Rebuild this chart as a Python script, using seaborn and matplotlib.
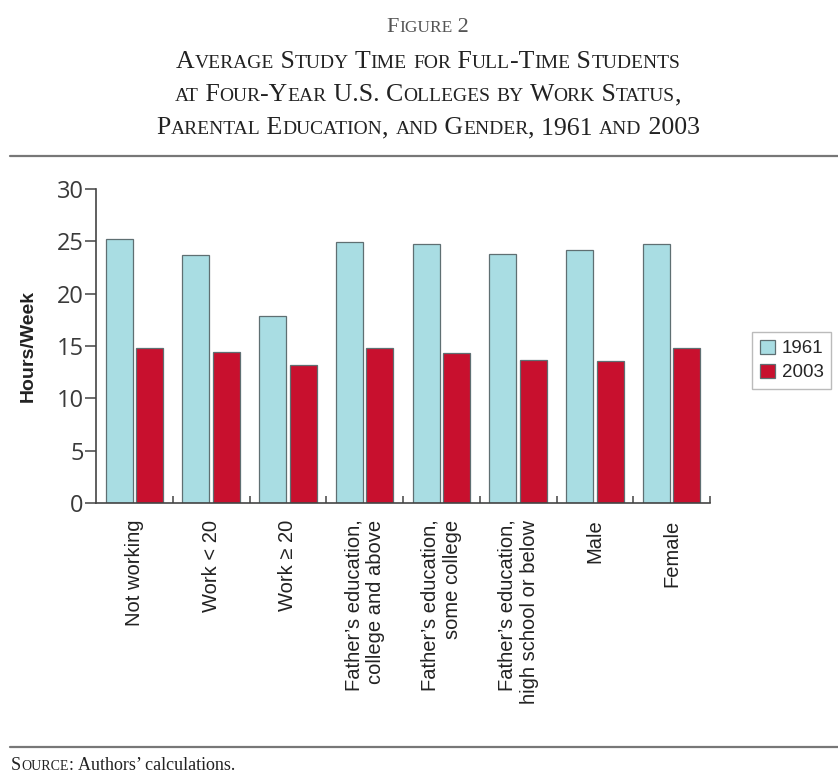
import numpy as np
import pandas as pd
import matplotlib
matplotlib.use("Agg")
import matplotlib.pyplot as plt
import seaborn as sns

# --- data ---
categories = [
    "Not working",
    "Work < 20",
    "Work \u2265 20",
    "Father\u2019s education,\ncollege and above",
    "Father\u2019s education,\nsome college",
    "Father\u2019s education,\nhigh school or below",
    "Male",
    "Female",
]
hours_1961 = [25.2, 23.65, 17.85, 24.95, 24.7, 23.8, 24.15, 24.7]
hours_2003 = [14.85, 14.4, 13.2, 14.8, 14.3, 13.65, 13.6, 14.8]
years = ["1961", "2003"]
palette = {"1961": "#a9dde3", "2003": "#c8102e"}

df = pd.DataFrame({
    "category": categories * 2,
    "hours": hours_1961 + hours_2003,
    "year": [years[0]] * len(categories) + [years[1]] * len(categories),
})

sns.set_theme(style="white")
plt.rcParams["font.family"] = ["Liberation Sans", "DejaVu Sans"]

W, H = 838, 775
fig = plt.figure(figsize=(W / 100, H / 100), dpi=100)
ax = fig.add_axes([96 / W, 1 - 503 / H, (710 - 96) / W, (503 - 189) / H])

sns.barplot(data=df, x="category", y="hours", hue="year", palette=palette,
            order=categories, hue_order=years, width=0.8, gap=0.12,
            saturation=1, edgecolor="#5f6f72", linewidth=0.9, ax=ax)

ax.set_ylim(0, 30)
ax.set_xlim(-0.5, 7.5)
ax.set_yticks([0, 5, 10, 15, 20, 25, 30])
ax.set_yticklabels(["0", "5", "10", "15", "20", "25", "30"],
                   family="Open Sans", fontsize=17, color="#3a3a3a")
ax.tick_params(axis="y", direction="out", length=8, width=1.1,
               color="#444444", pad=1, left=True)
ax.set_xticks(range(len(categories)))
ax.set_xticklabels(categories, rotation=90, fontsize=14.5, ma="right",
                   color="#222222")
ax.tick_params(axis="x", which="major", length=0, pad=12)
ax.set_xticks(np.arange(0.5, 8, 1), minor=True)
ax.tick_params(axis="x", which="minor", direction="in", length=5, width=1.1,
               color="#444444", bottom=True)
ax.set_xlabel("")
ax.set_ylabel("Hours/Week", fontsize=14, fontweight="bold", labelpad=14,
              color="#222222")
for s in ["top", "right"]:
    ax.spines[s].set_visible(False)
for s in ["left", "bottom"]:
    ax.spines[s].set_color("#444444")
    ax.spines[s].set_linewidth(1.2)

ax.legend(loc="upper left", bbox_to_anchor=(752 / W, 1 - 332 / H),
          bbox_transform=fig.transFigure, frameon=True, fancybox=False,
          edgecolor="#aaaaaa", fontsize=13.5, handlelength=0.8,
          handleheight=0.8, handletextpad=0.4, borderpad=0.4,
          borderaxespad=0, labelspacing=0.35, title=None)

# --- small caps title block ---
renderer = fig.canvas.get_renderer()
SERIF = ["Liberation Serif", "DejaVu Serif"]


def text_width(s, size):
    a = fig.text(0, 0, "|" + s + "|", fontsize=size, family=SERIF)
    b = fig.text(0, 0, "||", fontsize=size, family=SERIF)
    w = a.get_window_extent(renderer).width - b.get_window_extent(renderer).width
    a.remove()
    b.remove()
    return w


def small_caps(s, x, y, big, small, color, align="center"):
    runs = []
    for c in s:
        low = c.islower()
        if runs and runs[-1][1] == low:
            runs[-1][0] += c
        else:
            runs.append([c, low])
    pieces = []
    for txt, low in runs:
        size = small if low else big
        t = txt.upper() if low else txt
        pieces.append((t, size, text_width(t, size)))
    total = sum(p[2] for p in pieces)
    x0 = x - total / 2 if align == "center" else x
    for t, size, w in pieces:
        fig.text(x0 / W, 1 - y / H, t, fontsize=size, family=SERIF,
                 color=color, ha="left", va="baseline")
        x0 += w
    return x0


small_caps("Figure 2", 428, 32, 16, 12.5, "#555555")
small_caps("Average Study Time for Full-Time Students", 428, 68, 18.5, 14, "#222222")
small_caps("at Four-Year U.S. Colleges by Work Status,", 428, 101, 18.5, 14, "#222222")
small_caps("Parental Education, and Gender, 1961 and 2003", 428, 134, 18.5, 14, "#222222")
x_end = small_caps("Source: ", 11, 770, 13, 10, "#222222", align="left")
fig.text(x_end / W, 1 - 770 / H, "Authors\u2019 calculations.", fontsize=13,
         family=SERIF, color="#222222", ha="left", va="baseline")

fig.add_artist(plt.Line2D([10 / W, 1], [1 - 156 / H] * 2, color="#777777", lw=1.6,
                          transform=fig.transFigure))
fig.add_artist(plt.Line2D([10 / W, 1], [1 - 747 / H] * 2, color="#777777", lw=1.6,
                          transform=fig.transFigure))

fig.savefig("out.png", dpi=100)
